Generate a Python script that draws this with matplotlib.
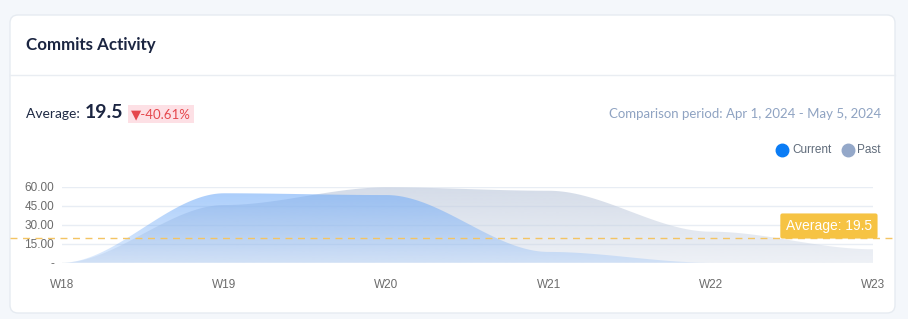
import numpy as np
import matplotlib
matplotlib.use("Agg")
import matplotlib.pyplot as plt
from matplotlib.patches import FancyBboxPatch, Polygon
from matplotlib.transforms import IdentityTransform, blended_transform_factory
from matplotlib.lines import Line2D

# data
weeks = ["W18", "W19", "W20", "W21", "W22", "W23"]
current = [0, 54.8, 53.4, 8.5, 0, 0]
past = [0, 45.5, 59.5, 56.8, 24.5, 10.6]
average = 19.5
y_ticks = [0, 15, 30, 45, 60]
y_tick_labels = ["-", "15.00", "30.00", "45.00", "60.00"]

W, H = 908, 319


def fx(px):
    return px / W


def fy(py):
    return 1 - py / H


def smooth(y, n=60):
    # smooth edge with flat tangents at each point (drawing only)
    xs, ys = [], []
    for i in range(len(y) - 1):
        s = np.linspace(0, 1, n, endpoint=(i == len(y) - 2))
        xs.append(i + s)
        ys.append(y[i] + (y[i + 1] - y[i]) * (3 * s**2 - 2 * s**3))
    return np.concatenate(xs), np.concatenate(ys)


def gradient_fill(ax, x, y, rgb, a_top, a_bottom, z):
    verts = np.column_stack([np.r_[x[0], x, x[-1]], np.r_[0, y, 0]])
    poly = Polygon(verts, closed=True, fc="none", ec="none", transform=ax.transData)
    ax.add_patch(poly)
    img = np.zeros((100, 1, 4))
    img[:, :, :3] = matplotlib.colors.to_rgb(rgb)
    img[:, 0, 3] = np.linspace(a_top, a_bottom, 100)
    im = ax.imshow(img, aspect="auto", extent=[0, len(weeks) - 1, 0, 60],
                   origin="upper", zorder=z, interpolation="bilinear")
    im.set_clip_path(poly)


fig = plt.figure(figsize=(W / 100, H / 100), dpi=100)
fig.patch.set_facecolor("#f4f7fb")

# card
card = FancyBboxPatch((10, H - 313), 885, 298, boxstyle="round,pad=0,rounding_size=8",
                      transform=IdentityTransform(), fc="white", ec="#e6ebf1", lw=1,
                      zorder=-2)
fig.add_artist(card)
fig.add_artist(Line2D([fx(10), fx(895)], [fy(75), fy(75)], color="#e9edf2", lw=1, zorder=-1))

fig.text(fx(26), fy(45), "Commits Activity", fontsize=12.2, fontweight="bold",
         color="#1b2541", va="center", family="Lato")
fig.text(fx(26), fy(114), "Average: ", fontsize=10, color="#1f2a44", va="center", family="Lato")
fig.text(fx(85), fy(113), "19.5", fontsize=14, fontweight="bold", color="#1b2541",
         va="center", family="Lato")
fig.text(fx(131), fy(114), "\u25bc-40.61%", fontsize=9.5, color="#e5484d", va="center",
         family=["Lato", "DejaVu Sans"],
         bbox=dict(boxstyle="square,pad=0.25", fc="#fde0e5", ec="none"))
fig.text(fx(881), fy(114), "Comparison period: Apr 1, 2024 - May 5, 2024", fontsize=9.5,
         color="#8fa3c2", ha="right", va="center", family="Lato")

# legend
fig.add_artist(Line2D([fx(782)], [fy(150)], marker="o", ms=9, color="#0a7cf5", lw=0))
fig.text(fx(792), fy(150), "Current", fontsize=8.5, color="#5f6b7a", va="center",
         family="Liberation Sans")
fig.add_artist(Line2D([fx(848)], [fy(150)], marker="o", ms=9, color="#94a8c9", lw=0))
fig.text(fx(857), fy(150), "Past", fontsize=8.5, color="#5f6b7a", va="center",
         family="Liberation Sans")

# plot area
ax = fig.add_axes([fx(62), fy(262.7), (873 - 62) / W, (262.7 - 186.7) / H])
ax.set_xlim(0, len(weeks) - 1)
ax.set_ylim(0, 60)
ax.patch.set_alpha(0)
for s in ax.spines.values():
    s.set_visible(False)

for v in y_ticks:
    ax.axhline(v, color="#e8edf4", lw=1, zorder=1)

xp, yp = smooth(past)
xc, yc = smooth(current)
gradient_fill(ax, xp, yp, "#c6d0e1", 0.75, 0.3, 2)
gradient_fill(ax, xc, yc, "#6ba8f8", 0.6, 0.22, 3)

ax.set_xticks(range(len(weeks)))
ax.set_xticklabels(weeks)
ax.set_yticks(y_ticks)
ax.set_yticklabels(y_tick_labels)
ax.tick_params(length=0, labelsize=8.5, labelcolor="#6b6b6b")
ax.tick_params(axis="x", pad=12)
ax.tick_params(axis="y", pad=5.8)
for lab in ax.get_xticklabels() + ax.get_yticklabels():
    lab.set_family("Liberation Sans")

# average line spanning the card
tr = blended_transform_factory(fig.transFigure, ax.transData)
ax.add_line(Line2D([fx(10), fx(895)], [average, average], transform=tr, clip_on=False,
                   color="#f4c463", lw=1, ls=(0, (5, 4)), zorder=4))
fig.text(fx(872), fy(226), "Average: 19.5", ha="right", va="center",
         fontsize=10, color="white", family="Liberation Sans", zorder=5,
         bbox=dict(boxstyle="round,pad=0.4,rounding_size=0.15", fc="#f6c343", ec="none"))

fig.savefig("out.png", dpi=100, facecolor=fig.get_facecolor())
